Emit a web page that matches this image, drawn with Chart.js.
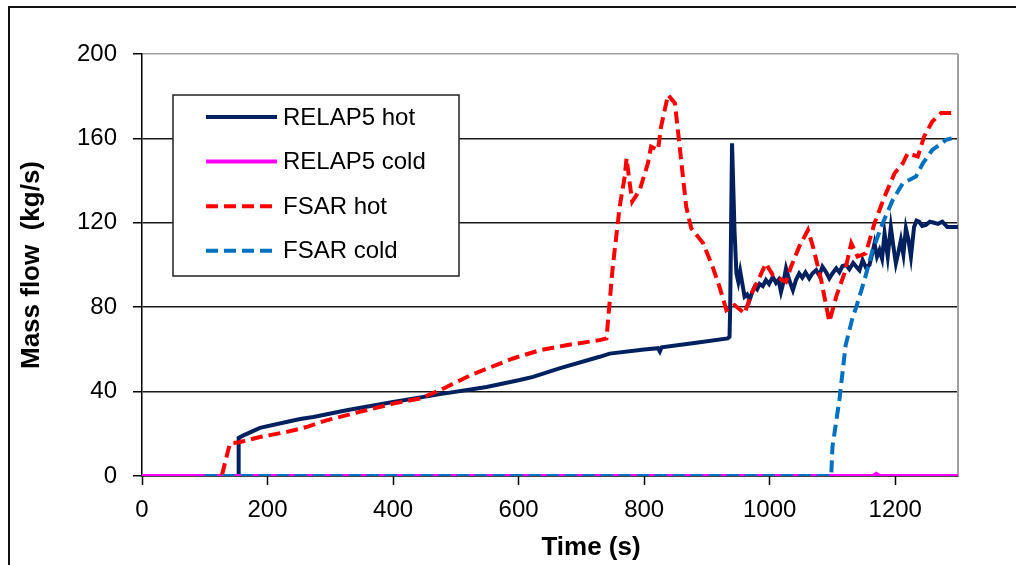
<!DOCTYPE html>
<html>
<head>
<meta charset="utf-8">
<title>Mass flow</title>
<script src="https://cdn.jsdelivr.net/npm/chart.js@4.4.1/dist/chart.umd.min.js"></script>
<style>
	html, body { margin: 0; padding: 0; background: #fff; }
	#wrap { width: 1016px; height: 565px; }
</style>
</head>
<body>
<div id="wrap"><canvas id="massFlowChart" width="1016" height="565"></canvas></div>
<script>
	'use strict';

	// [time (s), mass flow (kg/s)]
	const relap5Hot = [
		[0, 0], [153, 0], [154, 18], [160, 19], [188, 22.8], [230, 25.6], [252, 27], [273, 28],
		[326, 31.2], [400, 35.1], [475, 38.8], [549, 42.2], [600, 45.4], [623, 47], [665, 51],
		[729, 56.5], [745, 58], [800, 60], [822, 60.6], [825, 59], [828, 61], [880, 63],
		[933, 65.2], [936, 66], [937, 78.6], [940, 157.7], [944, 116], [947, 96], [950, 92],
		[953, 97], [960, 85], [964, 86], [968, 83.4], [972, 87], [976, 89.7], [980, 88.5],
		[984, 91], [989, 90], [994, 92.9], [999, 91], [1005, 94.4], [1010, 91.5], [1014, 93],
		[1018, 87.3], [1022, 92], [1026, 98.4], [1031, 93], [1037, 88.1], [1042, 93],
		[1047, 96], [1052, 94], [1057, 96.5], [1063, 93.6], [1068, 96], [1074, 97.6],
		[1079, 95], [1084, 99.2], [1090, 96.5], [1095, 93.6], [1100, 96], [1106, 98.4],
		[1111, 96.5], [1116, 99.5], [1122, 100], [1127, 98], [1133, 101], [1138, 99.2],
		[1143, 97.5], [1148, 102.3], [1153, 99], [1159, 100], [1163, 105], [1167, 110.3],
		[1171, 104], [1175, 107], [1179, 103], [1183, 115], [1188, 104], [1193, 118],
		[1197, 109], [1201, 100.8], [1205, 106], [1209, 111.8], [1213, 105], [1217, 117.4],
		[1221, 112], [1225, 104], [1230, 118], [1234, 121], [1238, 120.5], [1243, 118.5],
		[1249, 119], [1255, 120.5], [1262, 120], [1268, 119.5], [1275, 120.5], [1283, 118],
		[1300, 118]
	];

	const relap5Cold = [[0, 0], [1165, 0], [1170, 1], [1175, 0], [1300, 0]];

	const fsarHot = [
		[100, 0], [127, 0], [140, 15.4], [155, 16], [188, 18.5], [231, 20.9], [262, 23.2],
		[294, 26.4], [347, 30.4], [400, 34.3], [443, 36.7], [475, 40.7], [525, 48], [591, 55.7],
		[634, 59.6], [676, 62], [729, 64.4], [740, 65.2], [750, 99.2], [761, 127.6], [769, 141.9],
		[772, 150.6], [777, 138.7], [781, 130], [793, 135.6], [806, 148.2], [811, 156.1],
		[822, 154.5], [827, 165.6], [838, 180.6], [849, 176.7], [856, 157.7], [867, 127.6],
		[875, 117.4], [894, 110.3], [909, 99.2], [920, 89.7], [931, 78.6], [944, 81], [960, 77],
		[971, 86.5], [984, 94.4], [994, 100.8], [1005, 95.2], [1026, 92], [1034, 99.2],
		[1047, 108.7], [1061, 116.6], [1069, 108.7], [1082, 92.9], [1095, 73.1], [1106, 85],
		[1119, 96], [1130, 110.3], [1140, 104], [1153, 105.5], [1167, 119.8], [1183, 132.4],
		[1199, 143.5], [1212, 148.2], [1220, 153], [1236, 151.4], [1246, 160.9], [1259, 168],
		[1273, 172], [1297, 172]
	];

	const fsarCold = [
		[100, 0], [1098, 0], [1100, 13.8], [1111, 36], [1121, 62], [1132, 75], [1138, 80.2],
		[1151, 92.9], [1164, 107], [1180, 119.8], [1196, 130.8], [1212, 138.7], [1233, 141.9],
		[1244, 148.2], [1259, 154.5], [1281, 159.3], [1290, 160]
	];

	const seriesLabels = ['RELAP5 hot', 'RELAP5 cold', 'FSAR hot', 'FSAR cold'];
	const yTicks = [0, 40, 80, 120, 160, 200];
	const xTicks = [0, 200, 400, 600, 800, 1000, 1200];
	const xTitle = 'Time (s)';
	const yTitle = 'Mass flow  (kg/s)';

	const FONT = 'Arial, "Liberation Sans", sans-serif';
	Chart.defaults.font.family = FONT;
	Chart.defaults.color = '#000';

	const toPoints = (arr) => arr.map((p) => ({ x: p[0], y: p[1] }));

	function lineSet(label, data, color, dashed) {
		return {
			label: label,
			data: toPoints(data),
			borderColor: color,
			backgroundColor: color,
			borderWidth: 4,
			borderDash: dashed ? [12, 6] : [],
			pointRadius: 0,
			tension: 0,
			fill: false
		};
	}

	// Legend order
	const legendSets = [
		lineSet(seriesLabels[0], relap5Hot, '#002060', false),
		lineSet(seriesLabels[1], relap5Cold, '#ff00ff', false),
		lineSet(seriesLabels[2], fsarHot, '#ff0000', true),
		lineSet(seriesLabels[3], fsarCold, '#0070c0', true)
	];
	// Chart.js puts the first dataset on top, so feed them reversed (FSAR cold on top)
	const datasets = legendSets.slice().reverse();

	// White page, outer frame, and the x title (sits right of centre in the original)
	const framePlugin = {
		id: 'frame',
		beforeDraw(chart) {
			const ctx = chart.ctx;
			ctx.save();
			ctx.fillStyle = '#fff';
			ctx.fillRect(0, 0, chart.width, chart.height);
			ctx.strokeStyle = '#111';
			ctx.lineWidth = 2;
			ctx.beginPath();
			ctx.moveTo(9, chart.height);
			ctx.lineTo(9, 7);
			ctx.lineTo(chart.width, 7);
			ctx.stroke();
			ctx.restore();
		},
		beforeDatasetsDraw(chart) {
			// grey right edge of the plot area
			const a = chart.chartArea;
			const ctx = chart.ctx;
			ctx.save();
			ctx.strokeStyle = '#a0a0a0';
			ctx.lineWidth = 2;
			ctx.beginPath();
			ctx.moveTo(a.right, a.top);
			ctx.lineTo(a.right, a.bottom);
			ctx.stroke();
			ctx.restore();
		},
		afterDraw(chart) {
			const ctx = chart.ctx;
			ctx.save();
			ctx.font = 'bold 26px ' + FONT;
			ctx.fillStyle = '#000';
			ctx.textAlign = 'center';
			ctx.textBaseline = 'middle';
			ctx.fillText(xTitle, chart.chartArea.left + 449, 548);
			ctx.restore();
		}
	};

	// Boxed legend inside the plot area
	const boxLegendPlugin = {
		id: 'boxLegend',
		afterDatasetsDraw(chart) {
			const a = chart.chartArea;
			const ctx = chart.ctx;
			const left = a.left + 31;
			const top = a.top + 41;
			const w = 286;
			const h = 181;
			ctx.save();
			ctx.fillStyle = '#fff';
			ctx.fillRect(left, top, w, h);
			ctx.strokeStyle = '#222';
			ctx.lineWidth = 1.5;
			ctx.strokeRect(left, top, w, h);
			ctx.font = '24px ' + FONT;
			ctx.textBaseline = 'middle';
			ctx.textAlign = 'left';
			legendSets.forEach((ds, i) => {
				const y = top + 22 + i * 44.6;
				ctx.strokeStyle = ds.borderColor;
				ctx.lineWidth = 4;
				ctx.setLineDash(ds.borderDash);
				ctx.beginPath();
				ctx.moveTo(left + 33, y);
				ctx.lineTo(left + 104, y);
				ctx.stroke();
				ctx.setLineDash([]);
				ctx.fillStyle = '#000';
				ctx.fillText(ds.label, left + 110, y + 1);
			});
			ctx.restore();
		}
	};

	new Chart(document.getElementById('massFlowChart'), {
		type: 'line',
		data: { datasets: datasets },
		options: {
			responsive: false,
			animation: false,
			devicePixelRatio: 1,
			layout: { padding: { top: 54, right: 58, left: 0, bottom: 0 } },
			plugins: {
				legend: { display: false },
				tooltip: { enabled: false }
			},
			scales: {
				x: {
					type: 'linear',
					min: 0,
					max: 1300,
					afterBuildTicks: (s) => { s.ticks = xTicks.map((v) => ({ value: v })); },
					afterFit: (s) => { s.height = 89; },
					ticks: {
						font: { size: 24 },
						color: '#000',
						padding: 11,
						maxRotation: 0,
						callback: (v) => String(v)
					},
					grid: {
						drawOnChartArea: false,
						tickLength: 9,
						tickColor: '#000',
						tickWidth: 1.5
					},
					border: { color: '#000', width: 1.5 }
				},
				y: {
					min: 0,
					max: 200,
					afterBuildTicks: (s) => { s.ticks = yTicks.map((v) => ({ value: v })); },
					afterFit: (s) => { s.width = 142; },
					ticks: {
						font: { size: 24 },
						color: '#000',
						padding: 16,
						callback: (v) => String(v)
					},
					grid: {
						color: (c) => (c.tick && c.tick.value === 200 ? '#a0a0a0' : '#1a1a1a'),
						lineWidth: 1.5,
						tickLength: 9,
						tickColor: '#000',
						tickWidth: 1.5
					},
					border: { color: '#000', width: 1.5 },
					title: {
						display: true,
						text: yTitle,
						font: { size: 26, weight: 'bold' },
						color: '#000',
						padding: { top: 16, bottom: 0 }
					}
				}
			}
		},
		plugins: [framePlugin, boxLegendPlugin]
	});
</script>
</body>
</html>
